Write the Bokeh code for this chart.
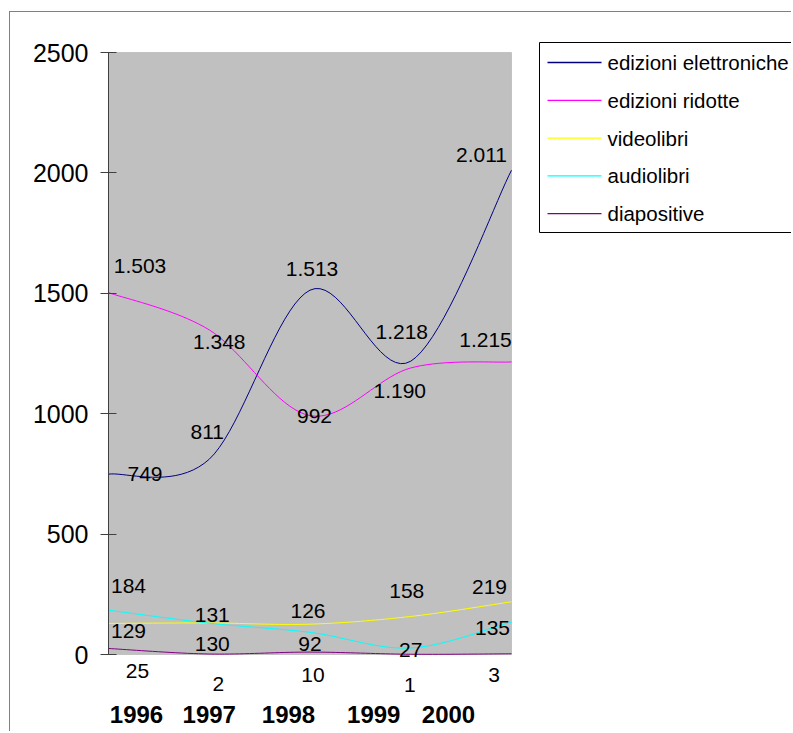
from bokeh.plotting import figure
from bokeh.models import (ColumnDataSource, LabelSet, Range1d, FixedTicker, BoxAnnotation)
from bokeh.core.properties import value
from bokeh.embed import file_html
from bokeh.resources import INLINE

# ---- data ----
years = ["1996", "1997", "1998", "1999", "2000"]
series_names = ["edizioni elettroniche", "edizioni ridotte", "videolibri", "audiolibri", "diapositive"]
elettroniche = [749, 811, 1513, 1218, 2011]
ridotte = [1503, 1348, 992, 1190, 1215]
videolibri = [129, 131, 126, 158, 219]
audiolibri = [184, 130, 92, 27, 135]
diapositive = [25, 2, 10, 1, 3]
y_ticks = [0, 500, 1000, 1500, 2000, 2500]

# ---- styles ----
colors = ["#000080", "#FF00FF", "#FFFF00", "#00FFFF", "#800080"]
FONT = "Liberation Sans"
# data label offsets in screen px (dx right, dy down)
label_dx = [
    [36.5, -2, 2, -9, -30],
    [31.5, 10, 4.5, -11, -26],
    [20, 3, -2, -4, -22],
    [20, 3, 0, 0, -19],
    [29, 9, 3, -1, -17.5],
]
label_dy = [
    [0, -27, -21, -29, -15],
    [-27, 12, 0, 23.5, -22],
    [8, -7.5, -13, -25, -15],
    [-24, 21, 12, 2.5, 6.5],
    [23, 29.5, 22.5, 31, 21],
]
year_dx = [28, 0, -21.5, -37, -63]
year_dy = 60

# layout (px)
CANVAS_W, CANVAS_H = 782, 720
LEFT = 98
PLOT_TOP = 40          # canvas top -> top of plot area
PLOT_W, PLOT_H = 403, 602
FRAME_W = CANVAS_W - LEFT
FRAME_H = CANVAS_H

# legend box geometry, px relative to plot-area top-left corner
LEG_LEFT, LEG_TOP, LEG_BOTTOM, LEG_RIGHT = 431, -10, 180, 700
LEG_LINE_X0, LEG_LINE_X1, LEG_TEXT_X = 439, 493, 499
LEG_ROW0, LEG_ROW_STEP = 10, 37.8

y_max = y_ticks[-1]
n_cat = len(years)
x_end = (n_cat - 1) * FRAME_W / PLOT_W
y_end = y_max + y_max * PLOT_TOP / PLOT_H
y_start = -y_max * (FRAME_H - PLOT_H - PLOT_TOP) / PLOT_H


def px_x(px):
    return px * (n_cat - 1) / PLOT_W


def px_y(py):
    return y_max - py * y_max / PLOT_H


def fmt(v):
    return f"{v:,}".replace(",", ".")


def smooth(vals, n=20):
    N = len(vals)
    pts = [(float(i), float(v)) for i, v in enumerate(vals)]
    xs, ys = [], []
    for i in range(N - 1):
        p0 = pts[i - 1] if i > 0 else pts[i]
        p1 = pts[i]
        p2 = pts[i + 1]
        p3 = pts[i + 2] if i + 2 < N else pts[i + 1]
        c1 = (p1[0] + (p2[0] - p0[0]) / 6, p1[1] + (p2[1] - p0[1]) / 6)
        c2 = (p2[0] - (p3[0] - p1[0]) / 6, p2[1] - (p3[1] - p1[1]) / 6)
        last = n + 1 if i == N - 2 else n
        for k in range(last):
            t = k / n
            a = (1 - t) ** 3
            b = 3 * (1 - t) ** 2 * t
            c = 3 * (1 - t) * t ** 2
            d = t ** 3
            xs.append(a * p1[0] + b * c1[0] + c * c2[0] + d * p2[0])
            ys.append(a * p1[1] + b * c1[1] + c * c2[1] + d * p2[1])
    return xs, ys


p = figure(width=CANVAS_W, height=CANVAS_H,
           x_range=Range1d(0, x_end), y_range=Range1d(y_start, y_end),
           output_backend="svg", toolbar_location=None,
           min_border_left=LEFT, min_border_right=0,
           min_border_top=0, min_border_bottom=0)
p.margin = (11, 0, 0, 9)
p.styles = {"border-left": "1px solid #808080", "border-top": "1px solid #808080"}

p.background_fill_color = "white"
p.border_fill_color = "white"
p.outline_line_color = None
p.xgrid.visible = False
p.ygrid.visible = False
p.xaxis.visible = False

# plot area
p.add_layout(BoxAnnotation(left=0, right=n_cat - 1, bottom=0, top=y_max,
                           fill_color="#C0C0C0", fill_alpha=1,
                           line_color="#808080", line_width=1, level="underlay"))

yax = p.yaxis[0]
yax.ticker = FixedTicker(ticks=y_ticks)
yax.bounds = (0, y_max)
yax.major_label_text_font = FONT
yax.major_label_text_font_size = "25px"
yax.major_label_text_color = "black"
yax.major_label_standoff = 12
yax.axis_line_color = "#404040"
yax.major_tick_line_color = "#404040"
yax.major_tick_out = 8
yax.major_tick_in = 8
yax.minor_tick_line_color = None

all_series = [elettroniche, ridotte, videolibri, audiolibri, diapositive]
for s, (name, vals, col) in enumerate(zip(series_names, all_series, colors)):
    xs, ys = smooth(vals)
    p.line(xs, ys, line_color=col, line_width=1)

for s, vals in enumerate(all_series):
    src = ColumnDataSource(dict(
        x=list(range(len(vals))), y=vals, text=[fmt(v) for v in vals],
        dx=label_dx[s], dy=[-d for d in label_dy[s]]))
    p.add_layout(LabelSet(x="x", y="y", text="text", source=src,
                          x_offset="dx", y_offset="dy",
                          text_align="center", text_baseline="middle",
                          text_font=value(FONT), text_font_size="21px", text_color="black"))

ysrc = ColumnDataSource(dict(x=list(range(len(years))), y=[0] * len(years), text=years,
                             dx=year_dx, dy=[-year_dy] * len(years)))
p.add_layout(LabelSet(x="x", y="y", text="text", source=ysrc,
                      x_offset="dx", y_offset="dy",
                      text_align="center", text_baseline="middle",
                      text_font=value(FONT), text_font_size="24px", text_font_style="bold",
                      text_color="black"))

# ---- legend (box, sample lines, names) ----
p.quad(left=[px_x(LEG_LEFT)], right=[px_x(LEG_RIGHT)],
       top=[px_y(LEG_TOP)], bottom=[px_y(LEG_BOTTOM)],
       fill_color="white", line_color="black", line_width=1)
rows = [px_y(LEG_ROW0 + i * LEG_ROW_STEP) for i in range(len(series_names))]
leg_src = ColumnDataSource(dict(
    x0=[px_x(LEG_LINE_X0)] * len(series_names),
    x1=[px_x(LEG_LINE_X1)] * len(series_names),
    xt=[px_x(LEG_TEXT_X)] * len(series_names),
    y=rows, name=series_names, color=colors))
p.segment(x0="x0", y0="y", x1="x1", y1="y", line_color="color", line_width=1.3, source=leg_src)
p.text(x="xt", y="y", text="name", source=leg_src,
       text_font=value(FONT), text_font_size=value("20.5px"), text_color="black",
       text_align="left", text_baseline="middle")

open("out.html", "w").write(file_html(p, INLINE))
